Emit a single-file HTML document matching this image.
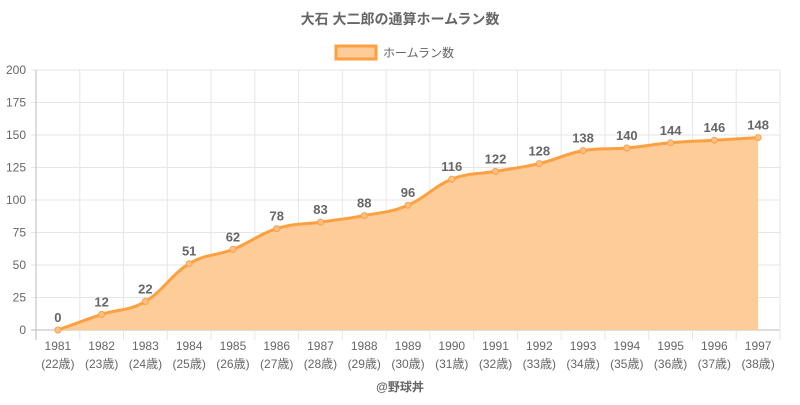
<!DOCTYPE html>
<html><head><meta charset="utf-8"><style>
body{margin:0;background:#fff;width:800px;height:400px;overflow:hidden}
svg text{font-family:"Liberation Sans","Noto Sans CJK JP",sans-serif}
</style></head><body>
<svg id="c" width="800" height="400" xmlns="http://www.w3.org/2000/svg">
<text x="400" y="24" text-anchor="middle" font-size="14" font-weight="bold" fill="#666">大石 大二郎の通算ホームラン数</text>
<rect x="336" y="46" width="40" height="13" fill="#fecc99" stroke="#fe9f40" stroke-width="3"/>
<text x="383" y="57" font-size="12" fill="#666">ホームラン数</text>
<text x="400" y="391" text-anchor="middle" font-size="12" font-weight="bold" fill="#666">@野球丼</text>
<g id="g"></g>
</svg>
<script>
var d=[0,12,22,51,62,78,83,88,96,116,122,128,138,140,144,146,148];
var L=36,R=780,T=70,B=330,st=(R-L)/17;
var s='';
for(var i=0;i<=8;i++){var y=B-i*(B-T)/8;s+='<line x1="'+(L-5)+'" x2="'+R+'" y1="'+y+'" y2="'+y+'" stroke="'+(i==0?'#bbb':'#e6e6e6')+'"/>';
s+='<text x="'+(L-10)+'" y="'+(y+4)+'" text-anchor="end" font-size="12" fill="#666">'+(i*25)+'</text>';}
for(var k=0;k<=17;k++){var x=L+k*st;s+='<line x1="'+x+'" x2="'+x+'" y1="'+T+'" y2="'+(B+10)+'" stroke="'+(k==0?'#bbb':'#e6e6e6')+'"/>';}
var P=d.map(function(v,i){return [L+st/2+i*st,B-v*1.3]});
var p='M'+P[0][0]+','+P[0][1];var t=0.2;
for(var i=0;i<P.length-1;i++){var a=P[i-1]||P[i],b=P[i],c=P[i+1],e=P[i+2]||c;
p+=' C'+(b[0]+(c[0]-a[0])*t)+','+(b[1]+(c[1]-a[1])*t)+' '+(c[0]-(e[0]-b[0])*t)+','+(c[1]-(e[1]-b[1])*t)+' '+c[0]+','+c[1];}
s+='<path d="'+p+' L'+P[16][0]+','+B+' L'+P[0][0]+','+B+'Z" fill="#fecc99"/>';
s+='<path d="'+p+'" fill="none" stroke="#fe9f40" stroke-width="3"/>';
P.forEach(function(q,i){s+='<circle cx="'+q[0]+'" cy="'+q[1]+'" r="3" fill="#fec08a" stroke="#fe9f40"/>';
s+='<text x="'+q[0]+'" y="'+(q[1]-8)+'" text-anchor="middle" font-size="13" font-weight="bold" fill="#666">'+d[i]+'</text>';
s+='<text x="'+q[0]+'" y="'+(B+20)+'" text-anchor="middle" font-size="12" fill="#666">'+(1981+i)+'</text>';
s+='<text x="'+q[0]+'" y="'+(B+38)+'" text-anchor="middle" font-size="12" fill="#666">('+(22+i)+'歳)</text>';});
document.getElementById('g').innerHTML=s;
</script>
</body></html>
